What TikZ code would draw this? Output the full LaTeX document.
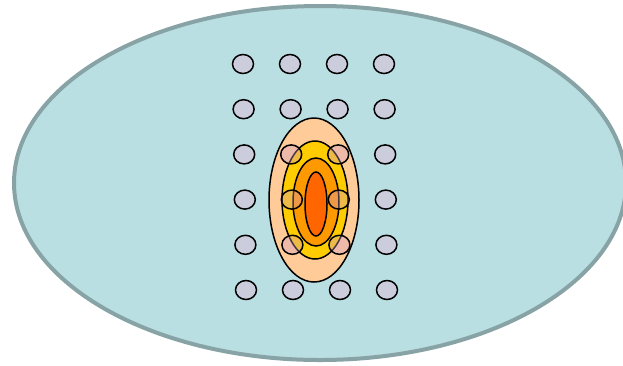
\documentclass[tikz,border=0pt]{standalone}
\usetikzlibrary{shapes.geometric}
\definecolor{lagoon}{HTML}{B9DFE2}
\definecolor{rim}{HTML}{88A3A5}
\definecolor{dotgray}{HTML}{CBCDDC}
\definecolor{mauve}{HTML}{CC99CC}
\definecolor{peach}{HTML}{FFCC99}
\definecolor{gold}{HTML}{FFCC00}
\definecolor{amber}{HTML}{FF9900}
\definecolor{ember}{HTML}{FF6600}
\begin{document}
\begin{tikzpicture}[
        x=1pt, y=-1pt,
        dot/.style={ellipse, draw, line width=1.5pt, fill=dotgray,
                    minimum width=21pt, minimum height=19pt, inner sep=0pt},
        ghost/.style={dot, fill=mauve, fill opacity=0.35},
        ring/.style={draw, line width=1.5pt}
    ]
        \useasboundingbox (0,0) rectangle (623,365);
        \draw[line width=4pt, draw=rim, fill=lagoon] (320,183) ellipse [x radius=306, y radius=177];

        % nested zones
        \draw[ring, fill=peach] (314,200) ellipse [x radius=45, y radius=82];
        \draw[ring, fill=gold]  (315,200) ellipse [x radius=33, y radius=59];
        \draw[ring, fill=amber] (316,202) ellipse [x radius=23, y radius=44];
        \draw[ring, fill=ember] (316,204) ellipse [x radius=11, y radius=32];

        % grid of dots
        \foreach \r in {1,...,6}
            \foreach \c in {1,...,4} {
                \pgfmathtruncatemacro\inside{(\r>2 && \r<6 && \c>1 && \c<4) ? 1 : 0}
                \ifnum\inside=1 \def\look{ghost}\else \def\look{dot}\fi
                \node[\look] (d\r\c)
                    at ({243+47*(\c-1)+0.6*(\r-1)}, {64+45.2*(\r-1)}) {};
            }
    \end{tikzpicture}
\end{document}
